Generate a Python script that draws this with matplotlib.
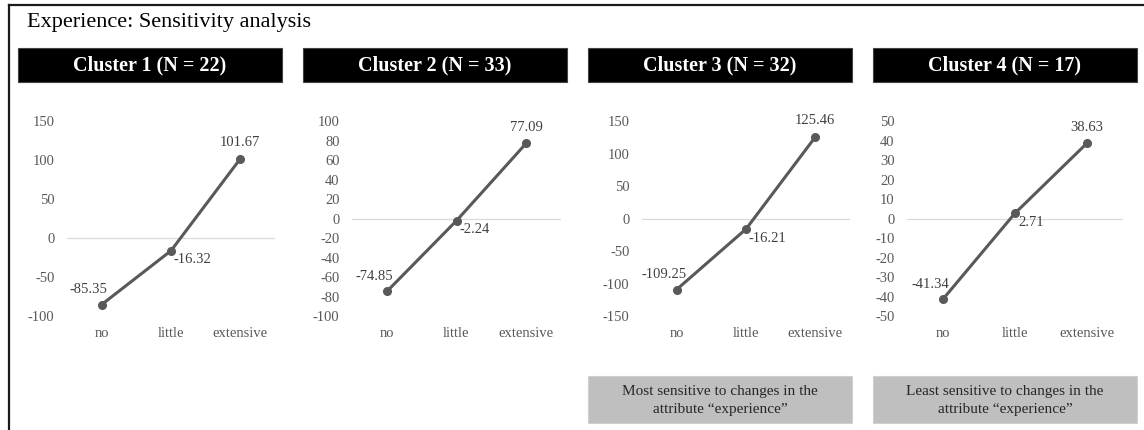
import numpy as np
import matplotlib.pyplot as plt
from matplotlib.patches import Rectangle
from matplotlib.lines import Line2D

plt.rcParams['font.family'] = ['Liberation Serif', 'DejaVu Serif']
plt.rcParams['axes.unicode_minus'] = False

W, H = 1144, 430

levels = ['no', 'little', 'extensive']
cluster_names = ['Cluster 1', 'Cluster 2', 'Cluster 3', 'Cluster 4']
cluster_sizes = [22, 33, 32, 17]
cluster1 = [-85.35, -16.32, 101.67]
cluster2 = [-74.85, -2.24, 77.09]
cluster3 = [-109.25, -16.21, 125.46]
cluster4 = [-41.34, 2.71, 38.63]
values = [cluster1, cluster2, cluster3, cluster4]
notes = {2: 'Most sensitive to changes in the\nattribute \u201cexperience\u201d',
         3: 'Least sensitive to changes in the\nattribute \u201cexperience\u201d'}

# y-axis range and step per panel
y_ranges = [(-100, 150, 50), (-100, 100, 20), (-150, 150, 50), (-50, 50, 10)]
# plot area (left, right) in pixels
plot_x = [(67, 275), (352, 561), (642, 850), (907, 1123)]
plot_top, plot_bottom = 121, 316

line_col = '#595959'
text_col = '#404040'
tick_col = '#595959'


def px_rect(x0, y0, x1, y1):
    return [x0 / W, 1 - y1 / H, (x1 - x0) / W, (y1 - y0) / H]


fig = plt.figure(figsize=(W / 100, H / 100), dpi=100)

# frame on the top and left edge
fig.add_artist(Line2D([9 / W, 9 / W], [0, 1 - 5 / H], transform=fig.transFigure,
                      color='#1a1a1a', lw=1.6))
fig.add_artist(Line2D([9 / W, 1], [1 - 5 / H, 1 - 5 / H], transform=fig.transFigure,
                      color='#1a1a1a', lw=1.6))

fig.text(27 / W, 1 - 23 / H, 'Experience: Sensitivity analysis', fontsize=16,
         ha='left', va='center', color='black')

for i in range(4):
    # black header bar
    bx0 = 18 + 285 * i
    bx1 = bx0 + 264
    fig.add_artist(Rectangle((bx0 / W, 1 - 82 / H), (bx1 - bx0) / W, 34 / H,
                             transform=fig.transFigure, facecolor='black',
                             edgecolor='#444444', lw=0.8))
    fig.text((bx0 + bx1) / 2 / W, 1 - 65 / H,
             f'{cluster_names[i]} (N = {cluster_sizes[i]})',
             color='white', fontsize=14.5, fontweight='bold', ha='center', va='center')

    x0, x1 = plot_x[i]
    ax = fig.add_axes(px_rect(x0, plot_top, x1, plot_bottom))
    lo, hi, step = y_ranges[i]
    x = np.arange(len(levels))
    ax.plot(x, values[i], color=line_col, lw=2.2, marker='o', ms=5.5,
            solid_capstyle='round')
    ax.axhline(0, color='#d9d9d9', lw=0.9, zorder=0)
    ax.set_xlim(-0.5, 2.5)
    ax.set_ylim(lo, hi)
    ax.set_yticks(np.arange(lo, hi + step / 2, step))
    ax.set_xticks(x)
    ax.set_xticklabels(levels)
    ax.tick_params(length=0, labelsize=10.5, labelcolor=tick_col)
    ax.tick_params(axis='y', pad=9)
    ax.tick_params(axis='x', pad=8)
    for s in ax.spines.values():
        s.set_visible(False)
    ax.patch.set_alpha(0)

    # data labels
    v = values[i]
    ax.annotate(f'{v[0]:.2f}', (0, v[0]), xytext=(-13, 15), textcoords='offset pixels',
                ha='center', va='center', fontsize=10.5, color=text_col)
    ax.annotate(f'{v[1]:.2f}', (1, v[1]), xytext=(3, -9), textcoords='offset pixels',
                ha='left', va='center', fontsize=10.5, color=text_col)
    ax.annotate(f'{v[2]:.2f}', (2, v[2]), xytext=(0, 16), textcoords='offset pixels',
                ha='center', va='center', fontsize=10.5, color=text_col)

    if i in notes:
        nx0 = 588 if i == 2 else 873
        nx1 = nx0 + 264
        fig.add_artist(Rectangle((nx0 / W, 1 - 423 / H), (nx1 - nx0) / W, 47 / H,
                                 transform=fig.transFigure, facecolor='#bfbfbf',
                                 edgecolor='#d0d0d0', lw=0.8))
        fig.text((nx0 + nx1) / 2 / W, 1 - 400.5 / H, notes[i], fontsize=11,
                 ha='center', va='center', color='#262626', linespacing=1.4)

fig.savefig('out.png', dpi=100)
